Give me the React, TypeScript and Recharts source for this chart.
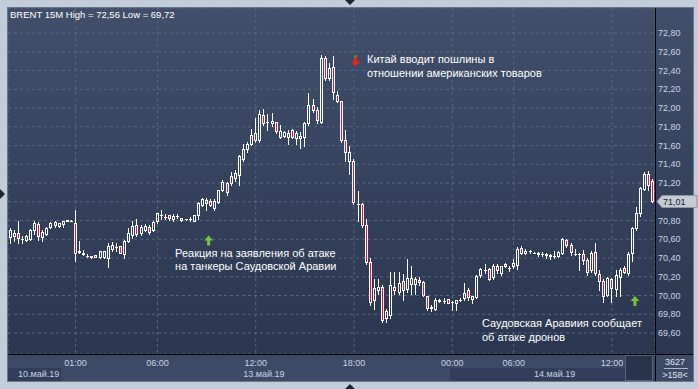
import React from 'react';
import { ComposedChart, Bar, XAxis, YAxis, CartesianGrid, ReferenceLine, ReferenceDot } from 'recharts';

// ---------- data ----------
const opens = [
  70.62, 70.63, 70.67, 70.60, 70.59, 70.60, 70.70, 70.76, 70.62, 70.66,
  70.73, 70.78, 70.74, 70.76, 70.80, 70.80, 70.77, 70.46, 70.45, 70.42,
  70.42, 70.43, 70.41, 70.41, 70.40, 70.50, 70.52, 70.53, 70.44, 70.58,
  70.65, 70.75, 70.67, 70.70, 70.73, 70.70, 70.79, 70.86, 70.84, 70.86,
  70.82, 70.85, 70.83, 70.815, 70.82, 70.80, 70.86, 70.965, 70.99, 71.01,
  70.93, 71.00, 71.125, 71.195, 71.20, 71.25, 71.285, 71.46, 71.56, 71.62,
  71.73, 71.66, 71.925, 71.85, 71.845, 71.85, 71.695, 71.70, 71.695, 71.765,
  71.675, 71.675, 71.695, 71.835, 72.03, 71.98, 71.85, 72.53, 72.32, 72.44,
  72.14, 72.07, 71.66, 71.43, 71.43, 70.98, 70.98, 70.75, 70.36, 69.95,
  70.06, 70.09, 69.76, 69.79, 70.09, 70.04, 70.15, 70.07, 70.12, 70.12,
  70.17, 70.14, 70.00, 69.87, 69.86, 69.95, 69.94, 69.96, 69.93, 69.92,
  69.95, 69.97, 70.06, 69.96, 69.98, 70.22, 70.27, 70.28, 70.20, 70.31,
  70.24, 70.34, 70.29, 70.31, 70.33, 70.51, 70.45, 70.47, 70.455, 70.45,
  70.44, 70.44, 70.42, 70.42, 70.42, 70.45, 70.59, 70.54, 70.44, 70.44,
  70.44, 70.38, 70.27, 70.46, 70.23, 70.15, 70.01, 70.18, 70.07, 70.20,
  70.29, 70.24, 70.45, 70.72, 70.88, 71.14, 71.30, 71.22,
];
const highs = [
  70.72, 70.70, 70.79, 70.63, 70.65, 70.71, 70.80, 70.78, 70.70, 70.73,
  70.78, 70.80, 70.77, 70.80, 70.81, 70.805, 70.91, 70.58, 70.49, 70.44,
  70.42, 70.43, 70.47, 70.48, 70.56, 70.57, 70.56, 70.53, 70.59, 70.72,
  70.79, 70.82, 70.75, 70.76, 70.75, 70.80, 70.885, 70.91, 70.87, 70.86,
  70.87, 70.87, 70.83, 70.82, 70.84, 70.86, 71.00, 71.035, 71.035, 71.025,
  71.025, 71.13, 71.23, 71.21, 71.32, 71.34, 71.50, 71.62, 71.64, 71.78,
  71.89, 71.98, 71.985, 71.94, 71.95, 71.855, 71.82, 71.75, 71.765, 71.78,
  71.75, 71.74, 71.85, 72.155, 72.10, 72.01, 72.565, 72.56, 72.48, 72.56,
  72.18, 72.08, 71.77, 71.60, 71.46, 71.11, 70.99, 70.82, 70.40, 70.18,
  70.18, 70.11, 69.86, 70.25, 70.25, 70.25, 70.23, 70.39, 70.31, 70.20,
  70.20, 70.15, 70.00, 69.90, 69.97, 69.96, 69.97, 69.96, 69.94, 69.95,
  69.97, 70.13, 70.08, 70.00, 70.22, 70.29, 70.34, 70.29, 70.34, 70.34,
  70.32, 70.35, 70.31, 70.39, 70.52, 70.53, 70.50, 70.49, 70.46, 70.46,
  70.46, 70.45, 70.44, 70.47, 70.47, 70.61, 70.60, 70.56, 70.50, 70.45,
  70.49, 70.40, 70.48, 70.56, 70.27, 70.18, 70.20, 70.19, 70.27, 70.29,
  70.31, 70.46, 70.73, 70.94, 71.16, 71.32, 71.33, 71.24,
];
const lows = [
  70.56, 70.58, 70.56, 70.56, 70.58, 70.59, 70.66, 70.59, 70.58, 70.65,
  70.72, 70.73, 70.73, 70.73, 70.80, 70.795, 70.37, 70.45, 70.43, 70.41,
  70.40, 70.41, 70.40, 70.40, 70.30, 70.48, 70.48, 70.45, 70.40, 70.57,
  70.61, 70.63, 70.65, 70.69, 70.66, 70.69, 70.77, 70.82, 70.82, 70.81,
  70.80, 70.83, 70.80, 70.81, 70.80, 70.80, 70.82, 70.95, 70.91, 70.95,
  70.91, 70.99, 71.11, 71.07, 71.18, 71.225, 71.18, 71.43, 71.53, 71.605,
  71.64, 71.64, 71.82, 71.77, 71.81, 71.73, 71.68, 71.69, 71.62, 71.68,
  71.62, 71.57, 71.59, 71.82, 71.96, 71.84, 71.84, 72.30, 72.30, 72.10,
  72.06, 71.64, 71.43, 71.30, 70.98, 70.79, 70.73, 70.34, 69.90, 69.86,
  70.02, 69.72, 69.72, 69.76, 70.02, 70.02, 69.95, 70.04, 70.02, 70.02,
  70.11, 70.00, 69.85, 69.84, 69.85, 69.93, 69.92, 69.92, 69.85, 69.85,
  69.94, 69.95, 69.95, 69.92, 69.97, 70.20, 70.24, 70.17, 70.18, 70.24,
  70.22, 70.30, 70.26, 70.29, 70.28, 70.44, 70.44, 70.45, 70.45, 70.42,
  70.42, 70.40, 70.39, 70.40, 70.41, 70.44, 70.52, 70.43, 70.43, 70.27,
  70.34, 70.22, 70.25, 70.22, 70.06, 69.93, 69.99, 69.93, 70.00, 70.00,
  70.24, 70.22, 70.37, 70.70, 70.85, 71.13, 71.13, 71.00,
];
const closes = [
  70.70, 70.67, 70.61, 70.60, 70.63, 70.70, 70.77, 70.63, 70.68, 70.72,
  70.77, 70.75, 70.77, 70.79, 70.81, 70.80, 70.45, 70.47, 70.44, 70.42,
  70.41, 70.41, 70.47, 70.47, 70.53, 70.54, 70.52, 70.45, 70.58, 70.67,
  70.74, 70.66, 70.73, 70.74, 70.68, 70.78, 70.88, 70.86, 70.84, 70.83,
  70.85, 70.85, 70.81, 70.815, 70.82, 70.86, 70.985, 71.025, 71.02, 70.965,
  71.01, 71.125, 71.21, 71.105, 71.27, 71.31, 71.49, 71.56, 71.62, 71.71,
  71.66, 71.935, 71.845, 71.855, 71.865, 71.75, 71.755, 71.74, 71.73, 71.695,
  71.73, 71.705, 71.835, 72.03, 71.98, 71.87, 72.53, 72.32, 72.43, 72.17,
  72.07, 71.66, 71.53, 71.53, 71.00, 70.98, 70.75, 70.36, 69.93, 70.08,
  70.09, 69.74, 69.83, 70.11, 70.06, 70.13, 70.06, 70.19, 70.19, 70.18,
  70.14, 70.01, 69.87, 69.88, 69.95, 69.94, 69.945, 69.92, 69.93, 69.95,
  69.955, 70.03, 69.98, 69.99, 70.21, 70.28, 70.27, 70.18, 70.32, 70.27,
  70.31, 70.32, 70.29, 70.35, 70.50, 70.45, 70.48, 70.47, 70.45, 70.445,
  70.44, 70.43, 70.43, 70.42, 70.46, 70.60, 70.54, 70.46, 70.44, 70.44,
  70.38, 70.25, 70.45, 70.24, 70.16, 69.99, 70.19, 70.08, 70.22, 70.27,
  70.25, 70.44, 70.72, 70.88, 71.15, 71.30, 71.18, 71.01,
];

const timeTickIndex = [16, 36, 60, 84, 108, 123, 147];
const timeTickLabels = ['01:00', '06:00', '12:00', '18:00', '00:00', '06:00', '12:00'];
const dateTickIndex = [7, 62, 133];
const dateTickLabels = ['10.май.19', '13.май.19', '14.май.19'];
const priceTicks = [72.8, 72.6, 72.4, 72.2, 72.0, 71.8, 71.6, 71.4, 71.2, 71.0, 70.8, 70.6, 70.4, 70.2, 70.0, 69.8, 69.6];
const priceDomain = [69.376, 73.067];
const titleText = 'BRENT 15M High = 72,56 Low = 69,72';
const barCountText = '3627';
const visibleCountText = '>158<';

const noteIndex = [84, 48, 152];
const notePrice = [72.5, 70.587, 69.941];
const noteDirection = ['down', 'up', 'up'];
const noteLines = [
  ['Китай вводит пошлины в', 'отношении американских товаров'],
  ['Реакция на заявления об атаке', 'на танкеры Саудовской Аравии'],
  ['Саудовская Аравиия сообщает', 'об атаке дронов'],
];

// ---------- layout / style (not data) ----------
const noteLayout = [
  { arrowDx: 1.5, textDx: 13, textDy: 2 },
  { arrowDx: 2, textDx: -31.5, textDy: 16.5 },
  { arrowDx: 2.5, textDx: -150.5, textDy: 26 },
];
const FONT = '"Liberation Sans", Arial, sans-serif';
const LABEL = '#c9d3e4';
const lastClose = closes[closes.length - 1];

const data = opens.map((o, i) => ({ i, o, h: highs[i], l: lows[i], c: closes[i], range: [lows[i], highs[i]] }));
const fmt = (v: number) => v.toFixed(2).replace('.', ',');

const Candle = (props: any) => {
  const { x, y, width, height, payload } = props;
  if (!payload) return null;
  const { o, h, l, c } = payload;
  const top = Math.min(y, y + height);
  const span = Math.abs(height);
  const toY = (v: number) => (h === l ? top : top + ((h - v) / (h - l)) * span);
  const cx = Math.floor(x + width / 2) + 0.5;
  const yH = Math.round(toY(h));
  const yL = Math.round(toY(l));
  const bTop = Math.round(Math.min(toY(o), toY(c)));
  const bBot = Math.round(Math.max(toY(o), toY(c)));
  const up = c >= o;
  return (
    <g>
      {yH < bTop && <line x1={cx} x2={cx} y1={yH} y2={bTop} stroke="#ffffff" strokeWidth={1} />}
      {bBot < yL && <line x1={cx} x2={cx} y1={bBot + 1} y2={yL + 1} stroke="#ffffff" strokeWidth={1} />}
      {bBot - bTop >= 1 ? (
        <rect x={cx - 1} y={bTop + 0.5} width={2} height={bBot - bTop} fill={up ? 'none' : '#e4123c'} stroke="#ffffff" strokeWidth={1} />
      ) : (
        <line x1={cx - 1.5} x2={cx + 1.5} y1={bTop + 0.5} y2={bTop + 0.5} stroke="#ffffff" strokeWidth={1} />
      )}
    </g>
  );
};

const TimeTick = (props: any) => {
  const { x, y, payload } = props;
  const k = timeTickIndex.indexOf(payload.value);
  return (
    <text x={x} y={y + 12} textAnchor="middle" fontSize={9} fontFamily={FONT} fill={LABEL}>
      {k >= 0 ? timeTickLabels[k] : ''}
    </text>
  );
};
const DateTick = (props: any) => {
  const { x, y, payload } = props;
  const k = dateTickIndex.indexOf(payload.value);
  return (
    <text x={x} y={y + 9} textAnchor="middle" fontSize={9} fontFamily={FONT} fill={LABEL}>
      {k >= 0 ? dateTickLabels[k] : ''}
    </text>
  );
};
const PriceTick = (props: any) => {
  const { x, y, payload } = props;
  // the last-price tag covers the tick label it lands on, as in the terminal
  if (Math.abs(payload.value - lastClose) < 0.06) return null;
  return (
    <text x={x + 3} y={y + 3} textAnchor="start" fontSize={9} fontFamily={FONT} fill={LABEL}>
      {fmt(payload.value)}
    </text>
  );
};

const PriceTag = (props: any) => {
  const vb = props.viewBox || {};
  const x0 = (vb.x || 0) + (vb.width || 0) + 2;
  const y = Math.round(vb.y || 0) + 0.5;
  const pts = `${x0},${y} ${x0 + 5},${y - 6} ${x0 + 40},${y - 6} ${x0 + 40},${y + 6} ${x0 + 5},${y + 6}`;
  return (
    <g>
      <polygon points={pts} fill="#c6cbd2" stroke="#8d96a4" strokeWidth={1} />
      <text x={x0 + 6} y={y + 3.5} fontSize={9} fontFamily={FONT} fill="#1b2130">
        {fmt(lastClose)}
      </text>
    </g>
  );
};

const makeNote = (k: number) => (props: any) => {
  const { cx, cy } = props;
  if (cx == null || cy == null) return null;
  const L = noteLayout[k];
  const ax = cx + L.arrowDx;
  const up = noteDirection[k] === 'up';
  const arrowPts = up
    ? [[0, -5], [4.5, 0], [1.5, 0], [1.5, 5], [-1.5, 5], [-1.5, 0], [-4.5, 0]]
    : [[0, 5], [4.5, 0], [1.5, 0], [1.5, -5], [-1.5, -5], [-1.5, 0], [-4.5, 0]];
  const pts = arrowPts.map(([dx, dy]) => `${ax + dx},${cy + dy}`).join(' ');
  return (
    <g>
      <polygon points={pts} fill={up ? '#78c143' : '#ec2418'} />
      {!up && <rect x={ax - 1.5} y={cy - 6} width={3} height={2} fill="#3f9a2c" />}
      {noteLines[k].map((line, j) => (
        <text key={j} x={cx + L.textDx} y={cy + L.textDy + j * 13.5} fontSize={11} fontFamily={FONT} fill="#ffffff">
          {line}
        </text>
      ))}
    </g>
  );
};

const Backdrop = () => (
  <svg width={698} height={389} style={{ position: 'absolute', left: 0, top: 0 }}>
    <defs>
      <linearGradient id="panelBg" x1="0" y1="0" x2="0" y2="1">
        <stop offset="0%" stopColor="#414f6b" />
        <stop offset="100%" stopColor="#29344d" />
      </linearGradient>
    </defs>
    <rect x={0} y={0} width={698} height={389} fill="#c3cdda" />
    <rect x={7.5} y={7.5} width={686} height={374} fill="url(#panelBg)" stroke="#6c7890" />
    <rect x={8} y={354} width={685} height={27} fill="#3d4a66" />
    <rect x={8} y={368} width={53} height={13} fill="#323e59" />
    <rect x={450} y={368} width={175} height={13} fill="#323e59" />
    <rect x={625.5} y={355.5} width={27} height={25} fill="#29334c" stroke="#56627a" />
    <line x1={664} x2={688} y1={368.5} y2={368.5} stroke="#aeb8c8" />
    <polygon points="345,0 355,0 350,5" fill="#1c2333" />
    <polygon points="345,389 355,389 350,384" fill="#1c2333" />
    <polygon points="0,189 0,199 5,194" fill="#1c2333" />
  </svg>
);

const Overlay = () => (
  <svg width={698} height={389} style={{ position: 'absolute', left: 0, top: 0, pointerEvents: 'none' }}>
    <line x1={655.5} x2={655.5} y1={8} y2={381} stroke="#000000" />
    <line x1={8} x2={693} y1={354.5} y2={354.5} stroke="#000000" />
    <text x={10} y={18} fontSize={9.5} fontFamily={FONT} fill="#ffffff">{titleText}</text>
    <text x={675} y={365} textAnchor="middle" fontSize={9} fontFamily={FONT} fill="#dfe6f0">{barCountText}</text>
    <text x={675} y={378} textAnchor="middle" fontSize={9} fontFamily={FONT} fill="#dfe6f0">{visibleCountText}</text>
  </svg>
);

export default function App() {
  return (
    <div style={{ position: 'absolute', left: 0, top: 0, width: 698, height: 389, overflow: 'hidden' }}>
      <Backdrop />
      <div style={{ position: 'absolute', left: 0, top: 0 }}>
        <ComposedChart
          width={698}
          height={389}
          data={data}
          margin={{ top: 8, right: 5, left: 8, bottom: 8 }}
          barCategoryGap={0}
        >
          <CartesianGrid stroke="#586681" strokeDasharray="3 3" />
          <XAxis
            dataKey="i"
            type="category"
            ticks={timeTickIndex}
            interval={0}
            height={14}
            tickSize={0}
            tickMargin={0}
            axisLine={false}
            tickLine={false}
            tick={<TimeTick />}
          />
          <XAxis
            xAxisId="date"
            dataKey="i"
            type="category"
            ticks={dateTickIndex}
            interval={0}
            height={13}
            tickSize={0}
            tickMargin={0}
            axisLine={false}
            tickLine={false}
            tick={<DateTick />}
          />
          <YAxis
            orientation="right"
            type="number"
            domain={priceDomain}
            allowDataOverflow
            ticks={priceTicks}
            interval={0}
            width={38}
            tickSize={0}
            tickMargin={0}
            axisLine={false}
            tickLine={false}
            tick={<PriceTick />}
          />
          <Bar dataKey="range" shape={(p: any) => <Candle {...p} />} isAnimationActive={false} />
          {noteIndex.map((xi, k) => (
            <ReferenceDot key={k} x={xi} y={notePrice[k]} r={0} shape={makeNote(k)} />
          ))}
          <ReferenceLine y={lastClose} stroke="none" label={<PriceTag />} />
        </ComposedChart>
      </div>
      <Overlay />
    </div>
  );
}
